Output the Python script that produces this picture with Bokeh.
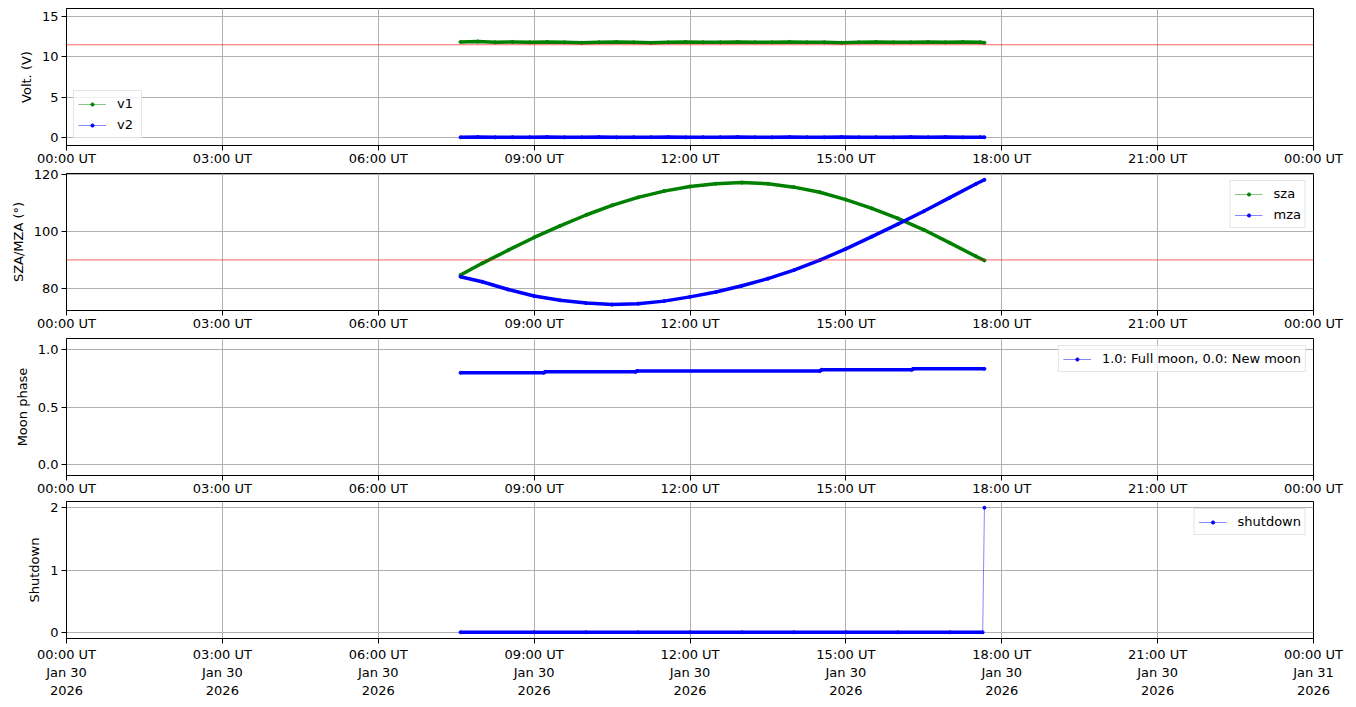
import pandas as pd
from bokeh.plotting import figure
from bokeh.layouts import column
from bokeh.models import (Range1d, FixedTicker, CustomJSTickFormatter, Span,
                          Legend, LegendItem, ColumnDataSource, PrintfTickFormatter)
from bokeh.embed import file_html
from bokeh.resources import INLINE

# ---------------- data ----------------
DAY = "2026-01-30"
tick_hours = [0, 3, 6, 9, 12, 15, 18, 21, 24]

volt_t = ["07:35", "07:55", "08:15", "08:35", "08:55", "09:15", "09:35", "09:55",
          "10:15", "10:35", "10:55", "11:15", "11:35", "11:55", "12:15", "12:35",
          "12:55", "13:15", "13:35", "13:55", "14:15", "14:35", "14:55", "15:15",
          "15:35", "15:55", "16:15", "16:35", "16:55", "17:15", "17:35", "17:40"]
v1 = [11.85, 11.9, 11.8, 11.85, 11.8, 11.85, 11.8, 11.75, 11.8, 11.85, 11.8, 11.75,
      11.8, 11.85, 11.8, 11.8, 11.85, 11.8, 11.8, 11.85, 11.8, 11.8, 11.75, 11.8,
      11.85, 11.8, 11.8, 11.85, 11.8, 11.85, 11.8, 11.75]
v2 = [0.02, 0.05, 0.01, 0.03, 0.02, 0.06, 0.01, 0.02, 0.04, 0.01, 0.03, 0.02,
      0.05, 0.01, 0.02, 0.03, 0.06, 0.02, 0.01, 0.04, 0.02, 0.01, 0.05, 0.02,
      0.03, 0.01, 0.04, 0.02, 0.05, 0.01, 0.03, 0.02]
volt_limit = 11.5

za_t = ["07:35", "08:00", "08:30", "09:00", "09:30", "10:00", "10:30", "11:00",
        "11:30", "12:00", "12:30", "13:00", "13:30", "14:00", "14:30", "15:00",
        "15:30", "16:00", "16:30", "17:00", "17:30", "17:40"]
sza = [84.7, 88.8, 93.4, 97.9, 102.0, 105.8, 109.2, 112.0, 114.2, 115.8, 116.8, 117.2,
       116.8, 115.6, 113.8, 111.2, 108.1, 104.6, 100.6, 96.0, 91.3, 89.8]
mza = [84.1, 82.3, 79.6, 77.3, 75.8, 74.8, 74.3, 74.6, 75.5, 77.0, 78.7, 80.9,
       83.4, 86.4, 89.9, 93.9, 98.2, 102.6, 107.1, 111.9, 116.7, 118.2]
za_limit = 90.0

moon_t = ["07:35", "09:11", "09:13", "10:57", "10:59", "14:30", "14:32",
          "16:16", "16:18", "17:40"]
moon = [0.800, 0.800, 0.808, 0.808, 0.816, 0.816, 0.826, 0.826, 0.834, 0.834]

shut_t = ["07:35", "09:00", "10:00", "11:00", "12:00", "13:00", "14:00", "15:00",
          "16:00", "17:00", "17:38", "17:40"]
shutdown = [0, 0, 0, 0, 0, 0, 0, 0, 0, 0, 0, 2]

# ---------------- helpers ----------------
def to_ms(hhmm):
    return pd.Timestamp(f"{DAY} {hhmm}").value / 1e6

x0 = to_ms("00:00")
HOUR = 3600 * 1000.0
ticks = [x0 + h * HOUR for h in tick_hours]
x_range = Range1d(x0, x0 + 24 * HOUR)

FONT = "DejaVu Sans"
GREEN = "green"
BLUE = "blue"

fmt_top = CustomJSTickFormatter(code="""
const d = new Date(tick);
const hh = String(d.getUTCHours()).padStart(2,'0');
const mm = String(d.getUTCMinutes()).padStart(2,'0');
return hh + ':' + mm + ' UT';
""")
fmt_bottom = CustomJSTickFormatter(code="""
const d = new Date(tick);
const M = ['Jan','Feb','Mar','Apr','May','Jun','Jul','Aug','Sep','Oct','Nov','Dec'];
const hh = String(d.getUTCHours()).padStart(2,'0');
const mm = String(d.getUTCMinutes()).padStart(2,'0');
return hh + ':' + mm + ' UT\\n' + M[d.getUTCMonth()] + ' ' + d.getUTCDate() + '\\n' + d.getUTCFullYear();
""")


def make_fig(ylabel, yr, yticks, top_border, bottom_border, fmt, xstandoff=0,
             xline_height=1.0):
    p = figure(x_range=x_range, y_range=Range1d(*yr), x_axis_type="datetime",
               frame_width=1247, frame_height=137,
               min_border_left=66, min_border_right=33, min_border_top=top_border,
               min_border_bottom=bottom_border,
               output_backend="svg", toolbar_location=None,
               background_fill_color="white", border_fill_color="white")
    p.outline_line_color = "black"
    p.outline_line_alpha = 1
    p.outline_line_width = 1
    p.xaxis.ticker = FixedTicker(ticks=ticks)
    p.xaxis.formatter = fmt
    p.yaxis.ticker = FixedTicker(ticks=yticks)
    for ax in (p.xaxis, p.yaxis):
        ax.major_tick_in = 0
        ax.major_tick_out = 5
        ax.minor_tick_line_color = None
        ax.axis_line_color = "black"
        ax.major_tick_line_color = "black"
        ax.major_label_text_font = FONT
        ax.major_label_text_font_size = "13px"
        ax.major_label_text_color = "black"
        ax.major_label_standoff = 3
    p.xaxis.major_label_standoff = xstandoff
    p.xaxis.major_label_text_line_height = xline_height
    p.yaxis.axis_label = ylabel
    p.yaxis.axis_label_text_font = FONT
    p.yaxis.axis_label_text_font_size = "13px"
    p.yaxis.axis_label_text_font_style = "normal"
    p.yaxis.axis_label_text_color = "black"
    p.yaxis.axis_label_standoff = 5
    for g in (p.xgrid, p.ygrid):
        g.grid_line_color = "#b0b0b0"
        g.grid_line_width = 1
        g.grid_line_alpha = 1
    return p


def add_series(p, t, y, color, thick=True):
    src = ColumnDataSource(dict(x=[to_ms(s) for s in t], y=y))
    if thick:
        p.line("x", "y", source=src, line_color=color, line_width=3.5,
               line_join="round")
    ln = p.line("x", "y", source=src, line_color=color, line_width=0.8, line_alpha=0.6)
    dots = p.scatter("x", "y", source=src, color=color, size=3)
    return [ln, dots]


def add_legend(p, items, loc):
    lg = Legend(items=[LegendItem(label=l, renderers=r) for l, r in items],
                location=loc, label_text_font=FONT, label_text_font_size="13px",
                label_text_color="black",
                label_height=17, glyph_height=8, glyph_width=28, spacing=4,
                padding=4, margin=7, label_standoff=11,
                border_line_color="#cccccc", border_line_width=1,
                background_fill_color="white", background_fill_alpha=0.8)
    p.add_layout(lg)


# panel 1: voltages
p1 = make_fig("Volt. (V)", (-1, 16), [0, 5, 10, 15], 8, 21, fmt_top)
p1.add_layout(Span(location=volt_limit, dimension="width", line_color="red",
                   line_alpha=0.6, line_width=1))
r_v1 = add_series(p1, volt_t, v1, GREEN)
r_v2 = add_series(p1, volt_t, v2, BLUE)
add_legend(p1, [("v1", r_v1), ("v2", r_v2)], "bottom_left")

# panel 2: zenith angles
p2 = make_fig("SZA/MZA (°)", (72.2, 120.4), [80, 100, 120], 5, 21, fmt_top)
p2.add_layout(Span(location=za_limit, dimension="width", line_color="red",
                   line_alpha=0.6, line_width=1))
r_sza = add_series(p2, za_t, sza, GREEN)
r_mza = add_series(p2, za_t, mza, BLUE)
add_legend(p2, [("sza", r_sza), ("mza", r_mza)], "top_right")

# panel 3: moon phase
p3 = make_fig("Moon phase", (-0.1, 1.1), [0.0, 0.5, 1.0], 5, 21, fmt_top)
p3.yaxis.formatter = PrintfTickFormatter(format="%.1f")
r_moon = add_series(p3, moon_t, moon, BLUE)
add_legend(p3, [("1.0: Full moon, 0.0: New moon", r_moon)], "top_right")

# panel 4: shutdown
p4 = make_fig("Shutdown", (-0.1, 2.1), [0, 1, 2], 3, 58, fmt_bottom, xstandoff=3,
              xline_height=1.2)
zero_t = [t for t, v in zip(shut_t, shutdown) if v == 0]
zero_v = [v for v in shutdown if v == 0]
p4.line([to_ms(s) for s in zero_t], zero_v, line_color=BLUE, line_width=3.5)
r_shut = add_series(p4, shut_t, shutdown, BLUE, thick=False)
add_legend(p4, [("shutdown", r_shut)], "top_right")

layout = column(p1, p2, p3, p4, spacing=0)
open("out.html", "w").write(file_html(layout, INLINE))
